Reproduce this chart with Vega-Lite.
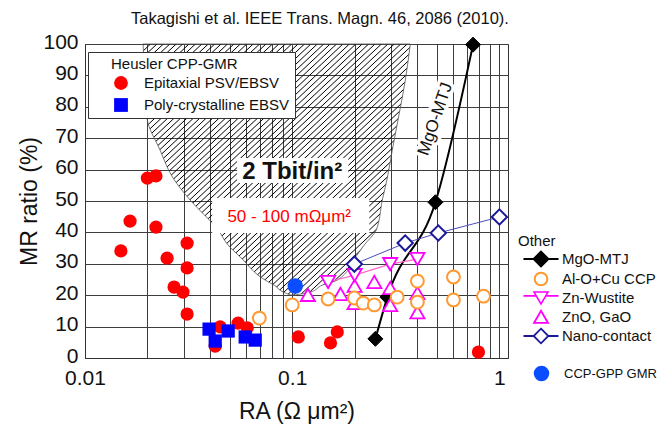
{
  "$schema": "https://vega.github.io/schema/vega-lite/v6.json",
  "width": 423,
  "height": 314,
  "autosize": {"type": "none"},
  "padding": {"left": 85, "top": 44, "right": 162, "bottom": 67},
  "background": "white",
  "title": {
    "text": "Takagishi et al. IEEE Trans. Magn. 46, 2086 (2010).",
    "anchor": "start",
    "frame": "group",
    "dx": 46,
    "offset": 4,
    "font": "Liberation Sans",
    "fontSize": 16.5,
    "fontWeight": "normal",
    "color": "#111"
  },
  "config": {
    "font": "Liberation Sans",
    "view": {"stroke": "#333", "strokeWidth": 1},
    "axis": {
      "grid": true,
      "gridColor": "#3d3d3d",
      "gridWidth": 1,
      "gridOpacity": 1,
      "ticks": false,
      "domainColor": "#333",
      "domainWidth": 1,
      "labelFont": "Liberation Sans",
      "titleFont": "Liberation Sans",
      "labelColor": "#111",
      "titleColor": "#111",
      "titleFontWeight": "normal"
    },
    "legend": {
      "titleFont": "Liberation Sans",
      "labelFont": "Liberation Sans",
      "titleFontSize": 15,
      "titleFontWeight": "normal",
      "titleColor": "#111",
      "labelFontSize": 15,
      "labelColor": "#111",
      "symbolOpacity": 1
    }
  },
  "datasets": {
    "pts": [
      {"series": "Epitaxial PSV/EBSV", "ra": 0.0200, "mr": 57.3},
      {"series": "Epitaxial PSV/EBSV", "ra": 0.0220, "mr": 58.0},
      {"series": "Epitaxial PSV/EBSV", "ra": 0.0165, "mr": 43.6},
      {"series": "Epitaxial PSV/EBSV", "ra": 0.0220, "mr": 41.7},
      {"series": "Epitaxial PSV/EBSV", "ra": 0.0149, "mr": 34.1},
      {"series": "Epitaxial PSV/EBSV", "ra": 0.0311, "mr": 36.6},
      {"series": "Epitaxial PSV/EBSV", "ra": 0.0249, "mr": 31.8},
      {"series": "Epitaxial PSV/EBSV", "ra": 0.0311, "mr": 28.7},
      {"series": "Epitaxial PSV/EBSV", "ra": 0.0269, "mr": 22.6},
      {"series": "Epitaxial PSV/EBSV", "ra": 0.0297, "mr": 21.0},
      {"series": "Epitaxial PSV/EBSV", "ra": 0.0311, "mr": 14.0},
      {"series": "Epitaxial PSV/EBSV", "ra": 0.0449, "mr": 9.9},
      {"series": "Epitaxial PSV/EBSV", "ra": 0.0548, "mr": 11.1},
      {"series": "Epitaxial PSV/EBSV", "ra": 0.0607, "mr": 9.6},
      {"series": "Epitaxial PSV/EBSV", "ra": 0.0425, "mr": 3.8},
      {"series": "Epitaxial PSV/EBSV", "ra": 0.107, "mr": 6.7},
      {"series": "Epitaxial PSV/EBSV", "ra": 0.165, "mr": 8.3},
      {"series": "Epitaxial PSV/EBSV", "ra": 0.153, "mr": 4.8},
      {"series": "Epitaxial PSV/EBSV", "ra": 0.792, "mr": 1.9},
      {"series": "Poly-crystalline EBSV", "ra": 0.0397, "mr": 9.2},
      {"series": "Poly-crystalline EBSV", "ra": 0.0491, "mr": 8.6},
      {"series": "Poly-crystalline EBSV", "ra": 0.0425, "mr": 5.4},
      {"series": "Poly-crystalline EBSV", "ra": 0.0593, "mr": 6.7},
      {"series": "Poly-crystalline EBSV", "ra": 0.0663, "mr": 5.7},
      {"series": "CCP-GPP GMR", "ra": 0.1034, "mr": 22.9},
      {"series": "MgO-MTJ", "ra": 0.252, "mr": 6.1},
      {"series": "MgO-MTJ", "ra": 0.288, "mr": 19.4},
      {"series": "MgO-MTJ", "ra": 0.491, "mr": 49.6},
      {"series": "MgO-MTJ", "ra": 0.746, "mr": 99.8},
      {"series": "ZnO, GaO", "ra": 0.119, "mr": 20.1},
      {"series": "ZnO, GaO", "ra": 0.171, "mr": 20.4},
      {"series": "ZnO, GaO", "ra": 0.2, "mr": 23.0},
      {"series": "ZnO, GaO", "ra": 0.2, "mr": 17.5},
      {"series": "ZnO, GaO", "ra": 0.249, "mr": 24.2},
      {"series": "ZnO, GaO", "ra": 0.297, "mr": 22.3},
      {"series": "ZnO, GaO", "ra": 0.297, "mr": 16.9},
      {"series": "ZnO, GaO", "ra": 0.402, "mr": 20.7},
      {"series": "ZnO, GaO", "ra": 0.402, "mr": 14.6},
      {"series": "Zn-Wustite", "ra": 0.149, "mr": 24.2},
      {"series": "Zn-Wustite", "ra": 0.2, "mr": 26.4},
      {"series": "Zn-Wustite", "ra": 0.297, "mr": 29.9},
      {"series": "Zn-Wustite", "ra": 0.402, "mr": 31.5},
      {"series": "Nano-contact", "ra": 0.1995, "mr": 29.9},
      {"series": "Nano-contact", "ra": 0.351, "mr": 36.6},
      {"series": "Nano-contact", "ra": 0.507, "mr": 39.8},
      {"series": "Nano-contact", "ra": 1.0, "mr": 44.9},
      {"series": "Al-O+Cu CCP", "ra": 0.0694, "mr": 12.7},
      {"series": "Al-O+Cu CCP", "ra": 0.100, "mr": 16.9},
      {"series": "Al-O+Cu CCP", "ra": 0.149, "mr": 18.8},
      {"series": "Al-O+Cu CCP", "ra": 0.1995, "mr": 19.1},
      {"series": "Al-O+Cu CCP", "ra": 0.220, "mr": 17.5},
      {"series": "Al-O+Cu CCP", "ra": 0.249, "mr": 16.9},
      {"series": "Al-O+Cu CCP", "ra": 0.321, "mr": 19.4},
      {"series": "Al-O+Cu CCP", "ra": 0.402, "mr": 24.5},
      {"series": "Al-O+Cu CCP", "ra": 0.402, "mr": 17.8},
      {"series": "Al-O+Cu CCP", "ra": 0.600, "mr": 25.8},
      {"series": "Al-O+Cu CCP", "ra": 0.600, "mr": 18.5},
      {"series": "Al-O+Cu CCP", "ra": 0.838, "mr": 19.7}
    ],
    "zone": [
      {"mr": 100, "ra": 0.01906, "ra2": 0.3715},
      {"mr": 88.5, "ra": 0.01950, "ra2": 0.3515},
      {"mr": 76.4, "ra": 0.01993, "ra2": 0.3252},
      {"mr": 66.2, "ra": 0.02303, "ra2": 0.3041},
      {"mr": 57.3, "ra": 0.02661, "ra2": 0.2877},
      {"mr": 50.3, "ra": 0.03215, "ra2": 0.2721},
      {"mr": 40.8, "ra": 0.04390, "ra2": 0.2545},
      {"mr": 36.0, "ra": 0.04900, "ra2": 0.2227},
      {"mr": 32.2, "ra": 0.05608, "ra2": 0.2026},
      {"mr": 24.8, "ra": 0.07408, "ra2": 0.1649},
      {"mr": 23.2, "ra": 0.08180, "ra2": 0.1396},
      {"mr": 21.0, "ra": 0.09048, "ra2": 0.1222},
      {"mr": 20.1, "ra": 0.09779, "ra2": 0.1034}
    ],
    "boxes": [
      {"ra": 0.0542, "ra2": 0.1866, "mr": 55.7, "mr2": 63.7},
      {"ra": 0.04108, "ra2": 0.2355, "mr": 39.8, "mr2": 50.96}
    ],
    "notes": [
      {"label": "2 Tbit/in²", "ra": 0.1, "mr": 59.2},
      {"label": "50 - 100 mΩμm²", "ra": 0.0967, "mr": 44.9},
      {"label": "MgO-MTJ", "ra": 0.4907, "mr": 76.1}
    ]
  },
  "encoding": {
    "x": {
      "field": "ra",
      "type": "quantitative",
      "scale": {"type": "log", "domain": [0.01, 1.1], "nice": false},
      "axis": {
        "title": "RA (Ω μm²)",
        "values": [0.01, 0.02, 0.03, 0.04, 0.05, 0.06, 0.07, 0.08, 0.09, 0.1, 0.2, 0.3, 0.4, 0.5, 0.6, 0.7, 0.8, 0.9, 1],
        "labelExpr": "datum.value == 0.01 ? '0.01' : datum.value == 0.1 ? '0.1' : datum.value == 1 ? '1' : ''",
        "labelFlush": false,
        "labelOverlap": false,
        "labelFontSize": 21,
        "labelPadding": 9,
        "titleFontSize": 23,
        "titlePadding": 12
      }
    },
    "y": {
      "field": "mr",
      "type": "quantitative",
      "scale": {"domain": [0, 100], "nice": false},
      "axis": {
        "title": "MR ratio (%)",
        "values": [0, 10, 20, 30, 40, 50, 60, 70, 80, 90, 100],
        "labelFontSize": 21,
        "labelPadding": 7,
        "labelOffset": -2,
        "titleFontSize": 23,
        "titlePadding": 1
      }
    }
  },
  "layer": [
    {
      "data": {"name": "zone"},
      "mark": {
        "type": "area",
        "orient": "horizontal",
        "interpolate": "monotone",
        "stroke": "#555",
        "strokeWidth": 0.8,
        "fill": {
          "gradient": "linear", "x1": 0, "y1": 0, "x2": 1, "y2": 1,
          "stops": [
            {"offset": 0, "color": "transparent"}, {"offset": 0.002, "color": "#000"}, {"offset": 0.004, "color": "transparent"},
            {"offset": 0.012, "color": "transparent"}, {"offset": 0.014, "color": "#000"}, {"offset": 0.016, "color": "transparent"},
            {"offset": 0.024, "color": "transparent"}, {"offset": 0.026, "color": "#000"}, {"offset": 0.028, "color": "transparent"},
            {"offset": 0.036, "color": "transparent"}, {"offset": 0.038, "color": "#000"}, {"offset": 0.04, "color": "transparent"},
            {"offset": 0.048, "color": "transparent"}, {"offset": 0.05, "color": "#000"}, {"offset": 0.052, "color": "transparent"},
            {"offset": 0.06, "color": "transparent"}, {"offset": 0.062, "color": "#000"}, {"offset": 0.064, "color": "transparent"},
            {"offset": 0.072, "color": "transparent"}, {"offset": 0.074, "color": "#000"}, {"offset": 0.076, "color": "transparent"},
            {"offset": 0.084, "color": "transparent"}, {"offset": 0.086, "color": "#000"}, {"offset": 0.088, "color": "transparent"},
            {"offset": 0.096, "color": "transparent"}, {"offset": 0.098, "color": "#000"}, {"offset": 0.1, "color": "transparent"},
            {"offset": 0.108, "color": "transparent"}, {"offset": 0.11, "color": "#000"}, {"offset": 0.112, "color": "transparent"},
            {"offset": 0.12, "color": "transparent"}, {"offset": 0.122, "color": "#000"}, {"offset": 0.124, "color": "transparent"},
            {"offset": 0.132, "color": "transparent"}, {"offset": 0.134, "color": "#000"}, {"offset": 0.136, "color": "transparent"},
            {"offset": 0.144, "color": "transparent"}, {"offset": 0.146, "color": "#000"}, {"offset": 0.148, "color": "transparent"},
            {"offset": 0.156, "color": "transparent"}, {"offset": 0.158, "color": "#000"}, {"offset": 0.16, "color": "transparent"},
            {"offset": 0.168, "color": "transparent"}, {"offset": 0.17, "color": "#000"}, {"offset": 0.172, "color": "transparent"},
            {"offset": 0.18, "color": "transparent"}, {"offset": 0.182, "color": "#000"}, {"offset": 0.184, "color": "transparent"},
            {"offset": 0.192, "color": "transparent"}, {"offset": 0.194, "color": "#000"}, {"offset": 0.196, "color": "transparent"},
            {"offset": 0.204, "color": "transparent"}, {"offset": 0.206, "color": "#000"}, {"offset": 0.208, "color": "transparent"},
            {"offset": 0.216, "color": "transparent"}, {"offset": 0.218, "color": "#000"}, {"offset": 0.22, "color": "transparent"},
            {"offset": 0.228, "color": "transparent"}, {"offset": 0.23, "color": "#000"}, {"offset": 0.232, "color": "transparent"},
            {"offset": 0.24, "color": "transparent"}, {"offset": 0.242, "color": "#000"}, {"offset": 0.244, "color": "transparent"},
            {"offset": 0.252, "color": "transparent"}, {"offset": 0.254, "color": "#000"}, {"offset": 0.256, "color": "transparent"},
            {"offset": 0.264, "color": "transparent"}, {"offset": 0.266, "color": "#000"}, {"offset": 0.268, "color": "transparent"},
            {"offset": 0.276, "color": "transparent"}, {"offset": 0.278, "color": "#000"}, {"offset": 0.28, "color": "transparent"},
            {"offset": 0.288, "color": "transparent"}, {"offset": 0.29, "color": "#000"}, {"offset": 0.292, "color": "transparent"},
            {"offset": 0.3, "color": "transparent"}, {"offset": 0.302, "color": "#000"}, {"offset": 0.304, "color": "transparent"},
            {"offset": 0.312, "color": "transparent"}, {"offset": 0.314, "color": "#000"}, {"offset": 0.316, "color": "transparent"},
            {"offset": 0.324, "color": "transparent"}, {"offset": 0.326, "color": "#000"}, {"offset": 0.328, "color": "transparent"},
            {"offset": 0.336, "color": "transparent"}, {"offset": 0.338, "color": "#000"}, {"offset": 0.34, "color": "transparent"},
            {"offset": 0.348, "color": "transparent"}, {"offset": 0.35, "color": "#000"}, {"offset": 0.352, "color": "transparent"},
            {"offset": 0.36, "color": "transparent"}, {"offset": 0.362, "color": "#000"}, {"offset": 0.364, "color": "transparent"},
            {"offset": 0.372, "color": "transparent"}, {"offset": 0.374, "color": "#000"}, {"offset": 0.376, "color": "transparent"},
            {"offset": 0.384, "color": "transparent"}, {"offset": 0.386, "color": "#000"}, {"offset": 0.388, "color": "transparent"},
            {"offset": 0.396, "color": "transparent"}, {"offset": 0.398, "color": "#000"}, {"offset": 0.4, "color": "transparent"},
            {"offset": 0.408, "color": "transparent"}, {"offset": 0.41, "color": "#000"}, {"offset": 0.412, "color": "transparent"},
            {"offset": 0.42, "color": "transparent"}, {"offset": 0.422, "color": "#000"}, {"offset": 0.424, "color": "transparent"},
            {"offset": 0.432, "color": "transparent"}, {"offset": 0.434, "color": "#000"}, {"offset": 0.436, "color": "transparent"},
            {"offset": 0.444, "color": "transparent"}, {"offset": 0.446, "color": "#000"}, {"offset": 0.448, "color": "transparent"},
            {"offset": 0.456, "color": "transparent"}, {"offset": 0.458, "color": "#000"}, {"offset": 0.46, "color": "transparent"},
            {"offset": 0.468, "color": "transparent"}, {"offset": 0.47, "color": "#000"}, {"offset": 0.472, "color": "transparent"},
            {"offset": 0.48, "color": "transparent"}, {"offset": 0.482, "color": "#000"}, {"offset": 0.484, "color": "transparent"},
            {"offset": 0.492, "color": "transparent"}, {"offset": 0.494, "color": "#000"}, {"offset": 0.496, "color": "transparent"},
            {"offset": 0.504, "color": "transparent"}, {"offset": 0.506, "color": "#000"}, {"offset": 0.508, "color": "transparent"},
            {"offset": 0.516, "color": "transparent"}, {"offset": 0.518, "color": "#000"}, {"offset": 0.52, "color": "transparent"},
            {"offset": 0.528, "color": "transparent"}, {"offset": 0.53, "color": "#000"}, {"offset": 0.532, "color": "transparent"},
            {"offset": 0.54, "color": "transparent"}, {"offset": 0.542, "color": "#000"}, {"offset": 0.544, "color": "transparent"},
            {"offset": 0.552, "color": "transparent"}, {"offset": 0.554, "color": "#000"}, {"offset": 0.556, "color": "transparent"},
            {"offset": 0.564, "color": "transparent"}, {"offset": 0.566, "color": "#000"}, {"offset": 0.568, "color": "transparent"},
            {"offset": 0.576, "color": "transparent"}, {"offset": 0.578, "color": "#000"}, {"offset": 0.58, "color": "transparent"},
            {"offset": 0.588, "color": "transparent"}, {"offset": 0.59, "color": "#000"}, {"offset": 0.592, "color": "transparent"},
            {"offset": 0.6, "color": "transparent"}, {"offset": 0.602, "color": "#000"}, {"offset": 0.604, "color": "transparent"},
            {"offset": 0.612, "color": "transparent"}, {"offset": 0.614, "color": "#000"}, {"offset": 0.616, "color": "transparent"},
            {"offset": 0.624, "color": "transparent"}, {"offset": 0.626, "color": "#000"}, {"offset": 0.628, "color": "transparent"},
            {"offset": 0.636, "color": "transparent"}, {"offset": 0.638, "color": "#000"}, {"offset": 0.64, "color": "transparent"},
            {"offset": 0.648, "color": "transparent"}, {"offset": 0.65, "color": "#000"}, {"offset": 0.652, "color": "transparent"},
            {"offset": 0.66, "color": "transparent"}, {"offset": 0.662, "color": "#000"}, {"offset": 0.664, "color": "transparent"},
            {"offset": 0.672, "color": "transparent"}, {"offset": 0.674, "color": "#000"}, {"offset": 0.676, "color": "transparent"},
            {"offset": 0.684, "color": "transparent"}, {"offset": 0.686, "color": "#000"}, {"offset": 0.688, "color": "transparent"},
            {"offset": 0.696, "color": "transparent"}, {"offset": 0.698, "color": "#000"}, {"offset": 0.7, "color": "transparent"},
            {"offset": 0.708, "color": "transparent"}, {"offset": 0.71, "color": "#000"}, {"offset": 0.712, "color": "transparent"},
            {"offset": 0.72, "color": "transparent"}, {"offset": 0.722, "color": "#000"}, {"offset": 0.724, "color": "transparent"},
            {"offset": 0.732, "color": "transparent"}, {"offset": 0.734, "color": "#000"}, {"offset": 0.736, "color": "transparent"},
            {"offset": 0.744, "color": "transparent"}, {"offset": 0.746, "color": "#000"}, {"offset": 0.748, "color": "transparent"},
            {"offset": 0.756, "color": "transparent"}, {"offset": 0.758, "color": "#000"}, {"offset": 0.76, "color": "transparent"},
            {"offset": 0.768, "color": "transparent"}, {"offset": 0.77, "color": "#000"}, {"offset": 0.772, "color": "transparent"},
            {"offset": 0.78, "color": "transparent"}, {"offset": 0.782, "color": "#000"}, {"offset": 0.784, "color": "transparent"},
            {"offset": 0.792, "color": "transparent"}, {"offset": 0.794, "color": "#000"}, {"offset": 0.796, "color": "transparent"},
            {"offset": 0.804, "color": "transparent"}, {"offset": 0.806, "color": "#000"}, {"offset": 0.808, "color": "transparent"},
            {"offset": 0.816, "color": "transparent"}, {"offset": 0.818, "color": "#000"}, {"offset": 0.82, "color": "transparent"},
            {"offset": 0.828, "color": "transparent"}, {"offset": 0.83, "color": "#000"}, {"offset": 0.832, "color": "transparent"},
            {"offset": 0.84, "color": "transparent"}, {"offset": 0.842, "color": "#000"}, {"offset": 0.844, "color": "transparent"},
            {"offset": 0.852, "color": "transparent"}, {"offset": 0.854, "color": "#000"}, {"offset": 0.856, "color": "transparent"},
            {"offset": 0.864, "color": "transparent"}, {"offset": 0.866, "color": "#000"}, {"offset": 0.868, "color": "transparent"},
            {"offset": 0.876, "color": "transparent"}, {"offset": 0.878, "color": "#000"}, {"offset": 0.88, "color": "transparent"},
            {"offset": 0.888, "color": "transparent"}, {"offset": 0.89, "color": "#000"}, {"offset": 0.892, "color": "transparent"},
            {"offset": 0.9, "color": "transparent"}, {"offset": 0.902, "color": "#000"}, {"offset": 0.904, "color": "transparent"},
            {"offset": 0.912, "color": "transparent"}, {"offset": 0.914, "color": "#000"}, {"offset": 0.916, "color": "transparent"},
            {"offset": 0.924, "color": "transparent"}, {"offset": 0.926, "color": "#000"}, {"offset": 0.928, "color": "transparent"},
            {"offset": 0.936, "color": "transparent"}, {"offset": 0.938, "color": "#000"}, {"offset": 0.94, "color": "transparent"},
            {"offset": 0.948, "color": "transparent"}, {"offset": 0.95, "color": "#000"}, {"offset": 0.952, "color": "transparent"},
            {"offset": 0.96, "color": "transparent"}, {"offset": 0.962, "color": "#000"}, {"offset": 0.964, "color": "transparent"},
            {"offset": 0.972, "color": "transparent"}, {"offset": 0.974, "color": "#000"}, {"offset": 0.976, "color": "transparent"},
            {"offset": 0.984, "color": "transparent"}, {"offset": 0.986, "color": "#000"}, {"offset": 0.988, "color": "transparent"},
            {"offset": 0.996, "color": "transparent"}, {"offset": 0.998, "color": "#000"}, {"offset": 1, "color": "transparent"}
          ]
        }
      },
      "encoding": {"x2": {"field": "ra2"}}
    },
    {
      "data": {"name": "boxes"},
      "mark": {"type": "rect", "fill": "white"},
      "encoding": {"x2": {"field": "ra2"}, "y2": {"field": "mr2"}}
    },
    {
      "data": {"name": "notes"},
      "transform": [{"filter": "datum.label === '2 Tbit/in²'"}],
      "mark": {"type": "text", "fontSize": 24, "fontWeight": "bold", "color": "#111", "align": "center", "baseline": "middle"},
      "encoding": {"text": {"field": "label"}}
    },
    {
      "data": {"name": "notes"},
      "transform": [{"filter": "datum.label === '50 - 100 mΩμm²'"}],
      "mark": {"type": "text", "fontSize": 17, "color": "#ff0000", "align": "center", "baseline": "middle"},
      "encoding": {"text": {"field": "label"}}
    },
    {
      "data": {"name": "notes"},
      "transform": [{"filter": "datum.label === 'MgO-MTJ'"}],
      "mark": {"type": "text", "fontSize": 17, "angle": 289, "color": "white", "stroke": "white", "strokeWidth": 7, "strokeJoin": "round", "align": "center", "baseline": "middle"},
      "encoding": {"text": {"field": "label"}}
    },
    {
      "data": {"name": "notes"},
      "transform": [{"filter": "datum.label === 'MgO-MTJ'"}],
      "mark": {"type": "text", "fontSize": 17, "angle": 289, "color": "#111", "align": "center", "baseline": "middle"},
      "encoding": {"text": {"field": "label"}}
    },
    {
      "data": {"name": "pts"},
      "transform": [{"filter": "datum.series === 'MgO-MTJ'"}],
      "mark": {"type": "line", "color": "#000", "strokeWidth": 2, "interpolate": "monotone"},
      "encoding": {}
    },
    {
      "data": {"name": "pts"},
      "transform": [{"filter": "datum.series === 'Zn-Wustite'"}],
      "mark": {"type": "line", "color": "#ff66cc", "strokeWidth": 1.2},
      "encoding": {}
    },
    {
      "data": {"name": "pts"},
      "transform": [{"filter": "datum.series === 'Nano-contact'"}],
      "mark": {"type": "line", "color": "#4d4dbb", "strokeWidth": 1},
      "encoding": {}
    },
    {
      "data": {"name": "pts"},
      "transform": [{"filter": "datum.series === 'Epitaxial PSV/EBSV' || datum.series === 'Poly-crystalline EBSV'"}],
      "mark": {"type": "point", "filled": true, "opacity": 1, "size": 175, "strokeWidth": 0},
      "encoding": {
        "color": {
          "field": "series", "type": "nominal",
          "scale": {"domain": ["Epitaxial PSV/EBSV", "Poly-crystalline EBSV"], "range": ["#ff0000", "#0000ff"]},
          "legend": {
            "title": "Heusler CPP-GMR", "orient": "none", "legendX": 3, "legendY": 8, "padding": 5,
            "fillColor": "white", "strokeColor": "#333", "symbolSize": 190, "symbolOffset": 20,
            "labelOffset": 15, "rowPadding": 6, "titlePadding": 3,
            "encode": {"title": {"update": {"dx": {"value": 18}}}}
          }
        },
        "shape": {
          "field": "series", "type": "nominal",
          "scale": {"domain": ["Epitaxial PSV/EBSV", "Poly-crystalline EBSV"], "range": ["circle", "square"]},
          "legend": {
            "title": "Heusler CPP-GMR", "orient": "none", "legendX": 3, "legendY": 8, "padding": 5,
            "fillColor": "white", "strokeColor": "#333", "symbolSize": 190, "symbolOffset": 20,
            "labelOffset": 15, "rowPadding": 6, "titlePadding": 3,
            "encode": {"title": {"update": {"dx": {"value": 18}}}}
          }
        }
      }
    },
    {
      "data": {"name": "pts"},
      "transform": [{"filter": "datum.series === 'CCP-GPP GMR'"}],
      "mark": {"type": "point", "filled": true, "opacity": 1, "size": 240, "shape": "circle", "strokeWidth": 0},
      "encoding": {
        "color": {
          "field": "series", "type": "nominal",
          "scale": {"domain": ["CCP-GPP GMR"], "range": ["#0a4cff"]},
          "legend": {
            "title": null, "orient": "none", "legendX": 448, "legendY": 321, "padding": 0,
            "symbolType": "circle", "symbolSize": 240, "labelOffset": 14, "labelFontSize": 13
          }
        }
      }
    },
    {
      "data": {"name": "pts"},
      "transform": [{"filter": "datum.series === 'MgO-MTJ'"}],
      "mark": {"type": "point", "shape": "diamond", "filled": true, "fill": "#000000", "opacity": 1, "size": 225, "strokeWidth": 1},
      "encoding": {
        "stroke": {
          "field": "series", "type": "nominal",
          "scale": {"range": ["#000000"]},
          "legend": {
            "title": "Other", "orient": "none", "legendX": 433, "legendY": 190, "padding": 0,
            "symbolType": "M-2.5,0H2.5M0,-1.05L1.05,0L0,1.05L-1.05,0Z", "symbolSize": 196,
            "symbolFillColor": "#000000", "symbolStrokeWidth": 2,
            "symbolOffset": 15, "labelOffset": 13, "titlePadding": 2
          }
        }
      }
    },
    {
      "data": {"name": "pts"},
      "transform": [{"filter": "datum.series === 'ZnO, GaO'"}],
      "mark": {"type": "point", "shape": "triangle-up", "filled": true, "fill": "#ffffff", "opacity": 1, "size": 200, "strokeWidth": 1.8},
      "encoding": {
        "stroke": {
          "field": "series", "type": "nominal",
          "scale": {"range": ["#ff00ff"]},
          "legend": {
            "title": null, "orient": "none", "legendX": 433, "legendY": 265, "padding": 0,
            "symbolType": "M0,-0.9L1,0.85H-1Z", "symbolSize": 196,
            "symbolFillColor": "#ffffff", "symbolStrokeWidth": 1.8,
            "symbolOffset": 15, "labelOffset": 13
          }
        }
      }
    },
    {
      "data": {"name": "pts"},
      "transform": [{"filter": "datum.series === 'Zn-Wustite'"}],
      "mark": {"type": "point", "shape": "triangle-down", "filled": true, "fill": "#ffffff", "opacity": 1, "size": 200, "strokeWidth": 1.8},
      "encoding": {
        "stroke": {
          "field": "series", "type": "nominal",
          "scale": {"range": ["#ff00ff"]},
          "legend": {
            "title": null, "orient": "none", "legendX": 433, "legendY": 246, "padding": 0,
            "symbolType": "M-2.5,-0.3H-0.68M0.68,-0.3H2.5M-1,-0.85H1L0,0.85Z", "symbolSize": 196,
            "symbolFillColor": "#ffffff", "symbolStrokeWidth": 1.6,
            "symbolOffset": 15, "labelOffset": 13
          }
        }
      }
    },
    {
      "data": {"name": "pts"},
      "transform": [{"filter": "datum.series === 'Nano-contact'"}],
      "mark": {"type": "point", "shape": "diamond", "filled": true, "fill": "#ffffff", "opacity": 1, "size": 235, "strokeWidth": 2},
      "encoding": {
        "stroke": {
          "field": "series", "type": "nominal",
          "scale": {"range": ["#1a1a99"]},
          "legend": {
            "title": null, "orient": "none", "legendX": 433, "legendY": 284, "padding": 0,
            "symbolType": "M-2.5,0H-1.05M1.05,0H2.5M0,-1.05L1.05,0L0,1.05L-1.05,0Z", "symbolSize": 196,
            "symbolFillColor": "#ffffff", "symbolStrokeWidth": 1.8,
            "symbolOffset": 15, "labelOffset": 13
          }
        }
      }
    },
    {
      "data": {"name": "pts"},
      "transform": [{"filter": "datum.series === 'Al-O+Cu CCP'"}],
      "mark": {"type": "point", "shape": "circle", "filled": true, "fill": "#ffffff", "opacity": 1, "size": 165, "strokeWidth": 2},
      "encoding": {
        "stroke": {
          "field": "series", "type": "nominal",
          "scale": {"range": ["#ff9933"]},
          "legend": {
            "title": null, "orient": "none", "legendX": 433, "legendY": 227, "padding": 0,
            "symbolType": "M-0.9,0A0.9,0.9,0,1,1,0.9,0A0.9,0.9,0,1,1,-0.9,0Z", "symbolSize": 196,
            "symbolFillColor": "#ffffff", "symbolStrokeWidth": 2,
            "symbolOffset": 15, "labelOffset": 13
          }
        }
      }
    }
  ],
  "resolve": {
    "scale": {"color": "independent", "shape": "independent", "stroke": "independent"},
    "legend": {"color": "independent", "shape": "independent", "stroke": "independent"}
  }
}
